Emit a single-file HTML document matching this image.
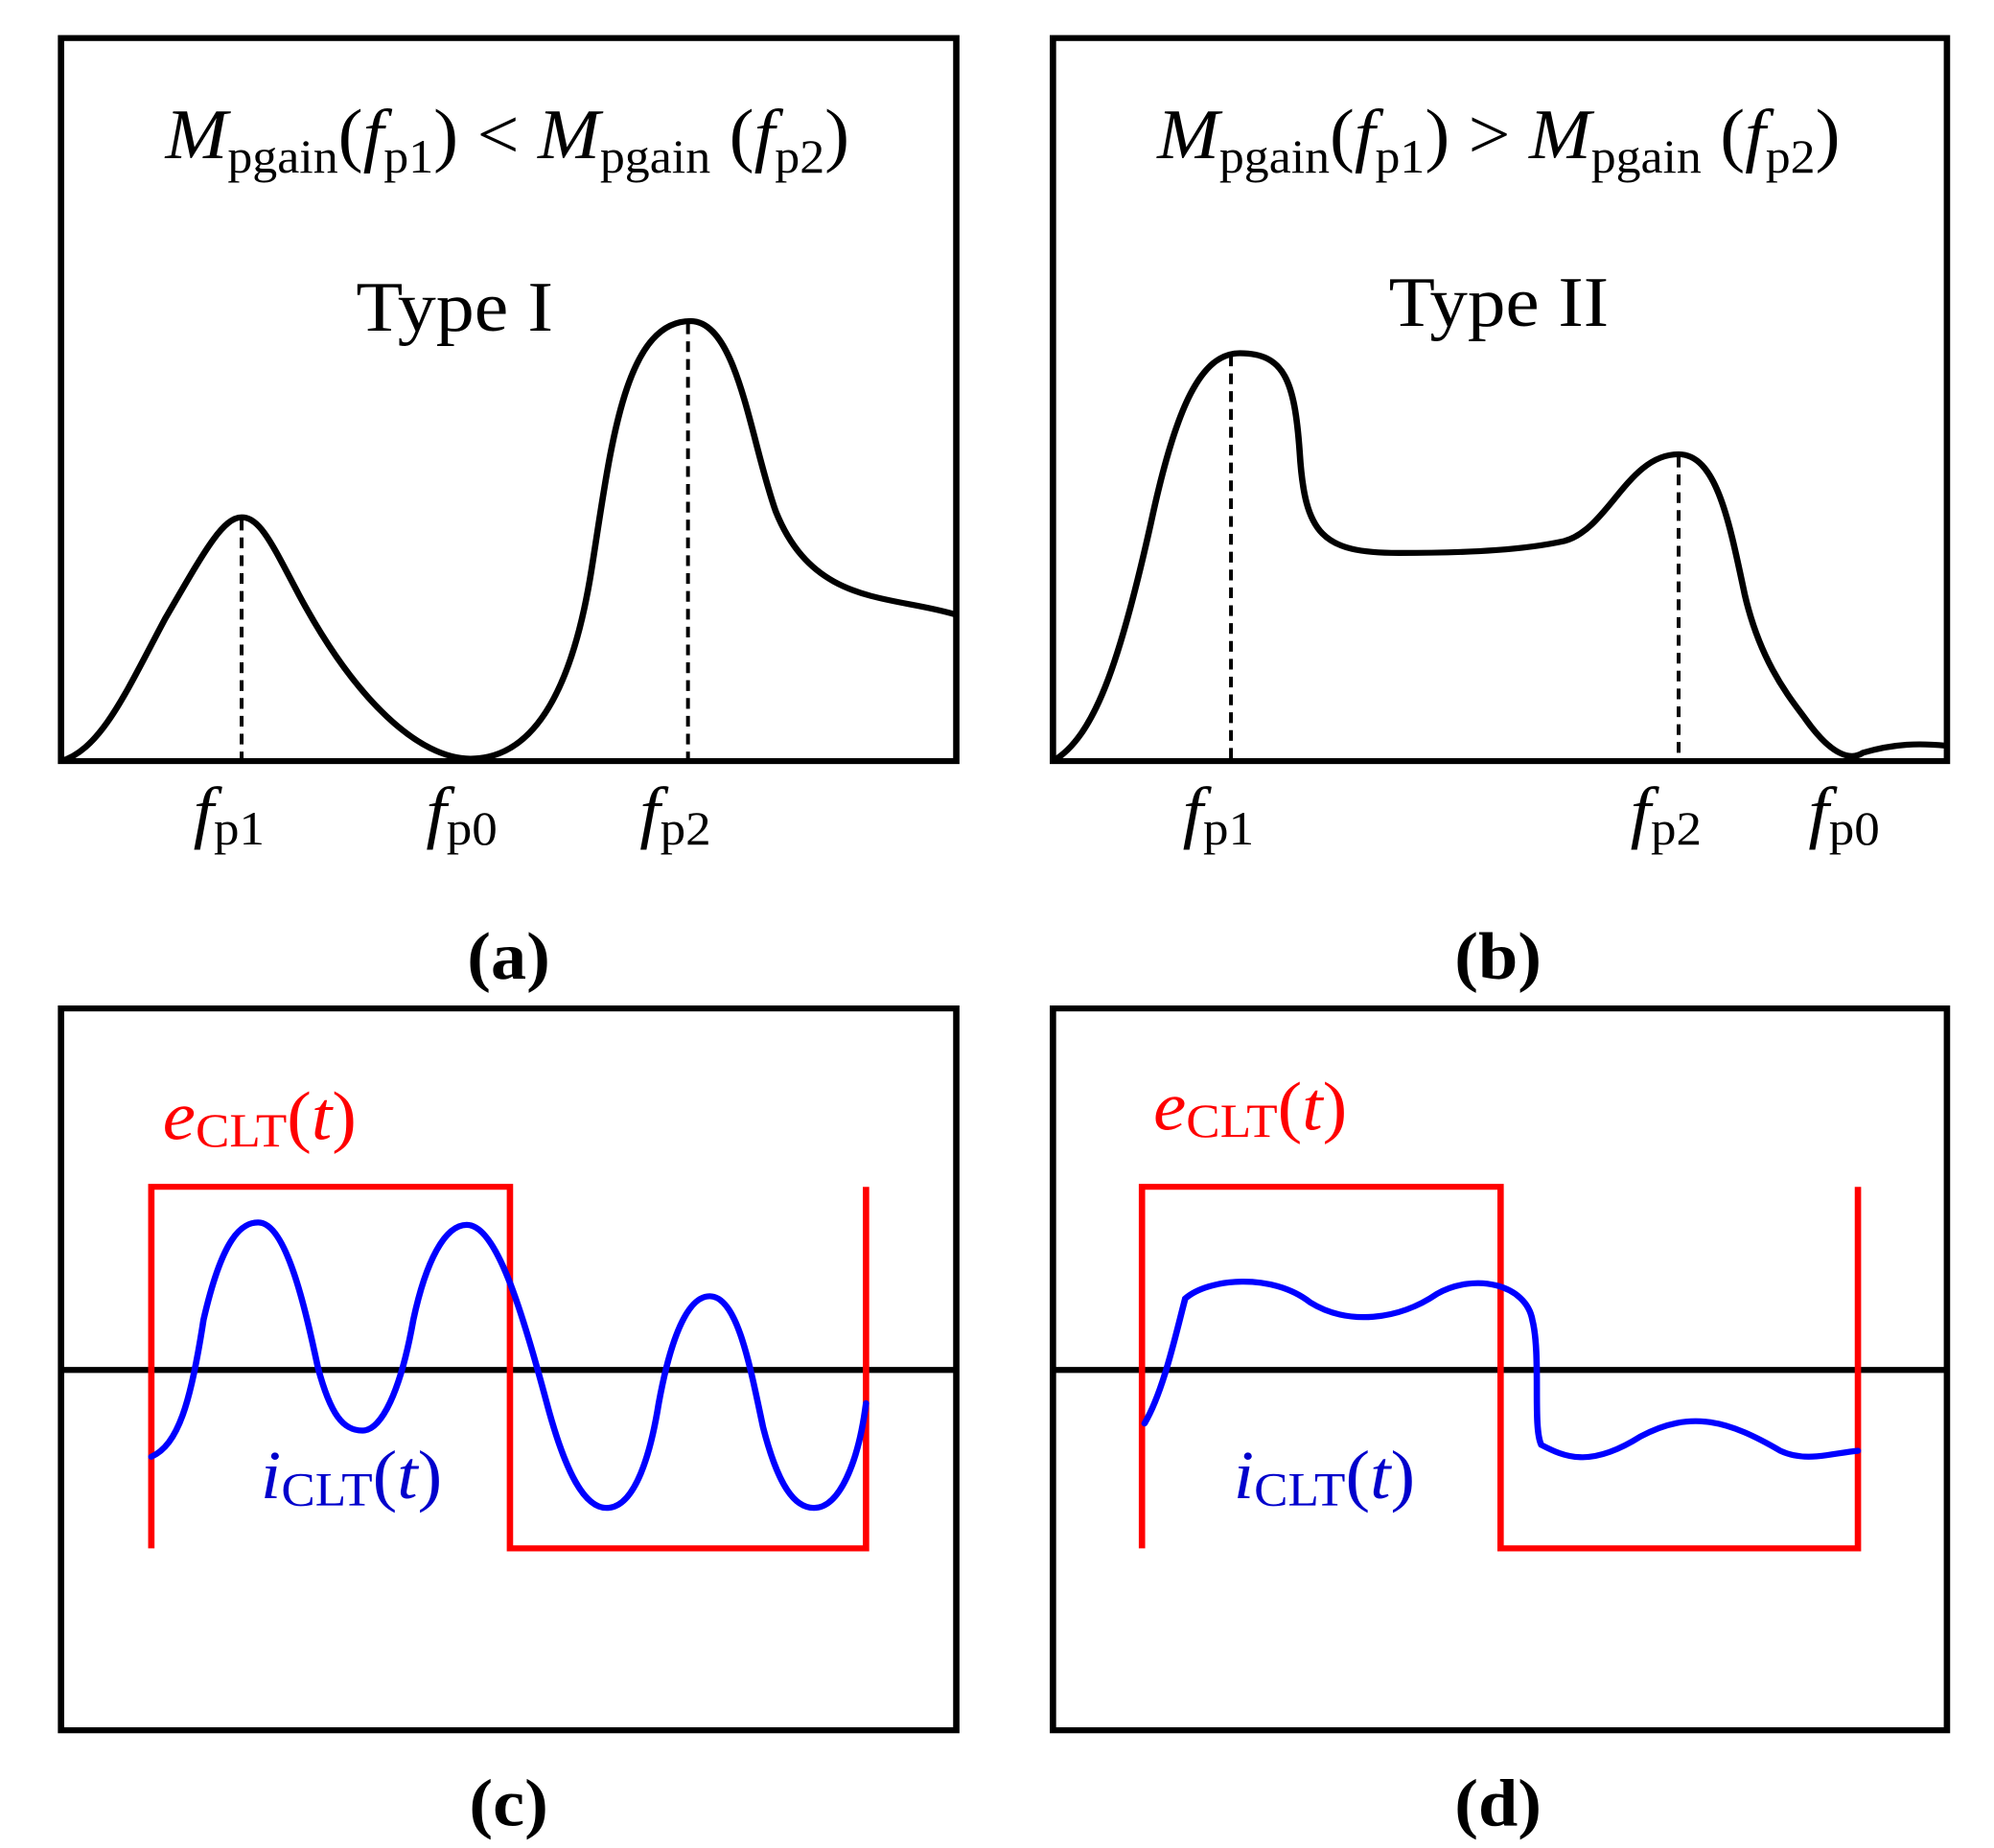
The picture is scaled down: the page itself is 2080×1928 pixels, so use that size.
<!DOCTYPE html>
<html><head><meta charset="utf-8"><style>html,body{margin:0;padding:0;background:#fff;overflow:hidden}svg{display:block}</style></head>
<body>
<svg width="2080" height="1928" viewBox="0 0 1568 1554" preserveAspectRatio="none" xmlns="http://www.w3.org/2000/svg" font-family="'Liberation Serif',serif">
<g fill="none" stroke="#000" stroke-width="5">
<rect x="48" y="32" width="704" height="608"/>
<rect x="828" y="32" width="703" height="608"/>
<rect x="48" y="848" width="704" height="607"/>
<rect x="828" y="848" width="703" height="607"/>
<line x1="48" y1="1152" x2="752" y2="1152"/>
<line x1="828" y1="1152" x2="1531" y2="1152"/>
<path d="M48,640 C80,630 100,580 130,520 C160,465 175,435 190,435 C205,435 215,460 235,500 C280,590 330,638 370,638 C420,638 450,580 465,480 C480,380 490,270 543,270 C580,270 590,370 610,430 C640,510 700,500 752,517"/>
<path d="M828,640 C860,620 880,560 905,440 C925,340 945,297 975,297 C1010,297 1018,320 1022,380 C1026,450 1040,465 1100,465 C1160,465 1200,462 1230,455 C1265,445 1280,382 1320,382 C1350,382 1360,440 1372,500 C1385,560 1410,590 1420,605 C1440,635 1455,640 1465,633 C1490,625 1510,625 1530,627"/>
</g>
<g stroke="#000" stroke-width="3" stroke-dasharray="9,6">
<line x1="190" y1="437" x2="190" y2="638"/>
<line x1="541" y1="272" x2="541" y2="638"/>
<line x1="968" y1="299" x2="968" y2="638"/>
<line x1="1320" y1="384" x2="1320" y2="638"/>
</g>
<g fill="none" stroke="#f00" stroke-width="5">
<path d="M119,1302 V998 H401 V1302 H681 V998"/>
<path d="M898,1302 V998 H1180 V1302 H1461 V998"/>
</g>
<g fill="none" stroke="#00f" stroke-width="5" stroke-linecap="round">
<path d="M119,1225 C140,1215 150,1180 160,1110 C175,1040 190,1028 203,1028 C225,1028 240,1100 250,1150 C260,1190 270,1203 285,1203 C300,1203 315,1170 325,1110 C335,1060 350,1030 367,1030 C390,1030 410,1100 430,1180 C445,1240 460,1268 477,1268 C500,1268 512,1220 518,1180 C530,1110 545,1090 558,1090 C580,1090 590,1150 600,1200 C612,1250 625,1268 640,1268 C660,1268 675,1230 681,1180"/>
<path d="M900,1197 C915,1170 925,1120 932,1092 C950,1075 1000,1070 1030,1095 C1060,1115 1100,1110 1130,1088 C1160,1070 1200,1080 1205,1110 C1212,1140 1205,1200 1212,1215 C1230,1225 1250,1235 1290,1208 C1330,1185 1360,1195 1400,1220 C1420,1230 1440,1222 1461,1220"/>
</g>
<g font-size="60" fill="#000">
<text x="130" y="133" textLength="538" lengthAdjust="spacingAndGlyphs"><tspan font-style="italic">M</tspan><tspan font-size="40" dy="12">pgain</tspan><tspan dy="-12">(</tspan><tspan font-style="italic">f</tspan><tspan font-size="40" dy="12">p1</tspan><tspan dy="-12">) &lt; </tspan><tspan font-style="italic">M</tspan><tspan font-size="40" dy="12">pgain</tspan><tspan dy="-12"> (</tspan><tspan font-style="italic">f</tspan><tspan font-size="40" dy="12">p2</tspan><tspan dy="-12">)</tspan></text>
<text x="910" y="133" textLength="537" lengthAdjust="spacingAndGlyphs"><tspan font-style="italic">M</tspan><tspan font-size="40" dy="12">pgain</tspan><tspan dy="-12">(</tspan><tspan font-style="italic">f</tspan><tspan font-size="40" dy="12">p1</tspan><tspan dy="-12">) &gt; </tspan><tspan font-style="italic">M</tspan><tspan font-size="40" dy="12">pgain</tspan><tspan dy="-12"> (</tspan><tspan font-style="italic">f</tspan><tspan font-size="40" dy="12">p2</tspan><tspan dy="-12">)</tspan></text>
<text x="280" y="278" textLength="155" lengthAdjust="spacingAndGlyphs">Type I</text>
<text x="1092" y="274" textLength="173" lengthAdjust="spacingAndGlyphs">Type II</text>
</g>
<g font-size="58" fill="#000">
<text x="152" y="702"><tspan font-style="italic">f</tspan><tspan font-size="40" dy="8">p1</tspan></text>
<text x="335" y="702"><tspan font-style="italic">f</tspan><tspan font-size="40" dy="8">p0</tspan></text>
<text x="503" y="702"><tspan font-style="italic">f</tspan><tspan font-size="40" dy="8">p2</tspan></text>
<text x="930" y="702"><tspan font-style="italic">f</tspan><tspan font-size="40" dy="8">p1</tspan></text>
<text x="1282" y="702"><tspan font-style="italic">f</tspan><tspan font-size="40" dy="8">p2</tspan></text>
<text x="1422" y="702"><tspan font-style="italic">f</tspan><tspan font-size="40" dy="8">p0</tspan></text>
</g>
<g font-size="56" font-weight="bold" text-anchor="middle" fill="#000">
<text x="400" y="823">(a)</text>
<text x="1178" y="823">(b)</text>
<text x="400" y="1535">(c)</text>
<text x="1178" y="1535">(d)</text>
</g>
<g font-size="58" fill="#f00">
<text x="128" y="958"><tspan font-style="italic">e</tspan><tspan font-size="40" dy="6">CLT</tspan><tspan dy="-6">(</tspan><tspan font-style="italic">t</tspan><tspan>)</tspan></text>
<text x="907" y="950"><tspan font-style="italic">e</tspan><tspan font-size="40" dy="6">CLT</tspan><tspan dy="-6">(</tspan><tspan font-style="italic">t</tspan><tspan>)</tspan></text>
</g>
<g font-size="58" fill="#00c">
<text x="205" y="1260"><tspan font-style="italic">i</tspan><tspan font-size="40" dy="6">CLT</tspan><tspan dy="-6">(</tspan><tspan font-style="italic">t</tspan><tspan>)</tspan></text>
<text x="970" y="1260"><tspan font-style="italic">i</tspan><tspan font-size="40" dy="6">CLT</tspan><tspan dy="-6">(</tspan><tspan font-style="italic">t</tspan><tspan>)</tspan></text>
</g>
</svg>
</body></html>
